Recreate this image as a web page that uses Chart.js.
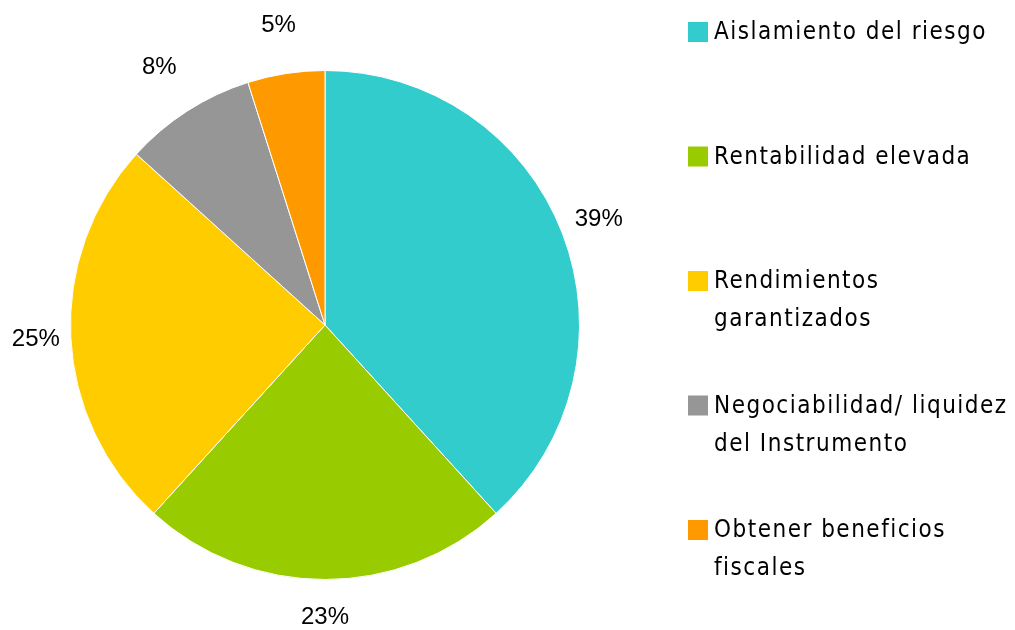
<!DOCTYPE html>
<html>
<head>
<meta charset="utf-8">
<script src="https://cdn.jsdelivr.net/npm/chart.js@4.4.1/dist/chart.umd.min.js"></script>
<style>
  html, body { margin: 0; padding: 0; background: #ffffff; }
  #wrap { width: 1015px; height: 630px; position: relative; }
</style>
</head>
<body>
<div id="wrap"><canvas id="c" width="1015" height="630"></canvas></div>
<script>
const categories = [
  ["Aislamiento del riesgo"],
  ["Rentabilidad elevada"],
  ["Rendimientos", "garantizados"],
  ["Negociabilidad/ liquidez", "del Instrumento"],
  ["Obtener beneficios", "fiscales"]
];
// slice shares as drawn in the picture
const values = [38.3, 23.5, 25.0, 8.4, 4.9];
// data labels as printed in the picture
const pctText = ["39%", "23%", "25%", "8%", "5%"];
const colors = ["#33CCCC", "#99CC00", "#FFCC00", "#969696", "#FF9900"];

const pctLabels = {
  id: 'pctLabels',
  afterDatasetsDraw(chart, args, opts) {
    const ctx = chart.ctx;
    const meta = chart.getDatasetMeta(0);
    ctx.save();
    ctx.font = '24px "Liberation Sans", Arial, sans-serif';
    ctx.fillStyle = '#000000';
    ctx.textAlign = 'center';
    ctx.textBaseline = 'middle';
    meta.data.forEach((arc, i) => {
      const p = arc.getProps(['x', 'y', 'startAngle', 'endAngle', 'outerRadius'], true);
      const mid = (p.startAngle + p.endAngle) / 2;
      const r = p.outerRadius + opts.offsets[i];
      const x = p.x + Math.cos(mid) * r;
      const y = p.y + Math.sin(mid) * r;
      ctx.fillText(pctText[i], x, y);
    });
    ctx.restore();
  }
};

const sideLegend = {
  id: 'sideLegend',
  afterDraw(chart, args, opts) {
    const ctx = chart.ctx;
    ctx.save();
    ctx.font = '24px "DejaVu Sans Condensed", "DejaVu Sans", sans-serif';
    if ('letterSpacing' in ctx) ctx.letterSpacing = '1.5px';
    ctx.textAlign = 'left';
    ctx.textBaseline = 'middle';
    categories.forEach((lines, i) => {
      const y0 = opts.top + i * opts.itemGap;
      ctx.fillStyle = colors[i];
      ctx.fillRect(opts.boxX, y0 - opts.box / 2, opts.box, opts.box);
      ctx.fillStyle = '#000000';
      lines.forEach((ln, j) => {
        ctx.fillText(ln, opts.textX, y0 + 1 + j * opts.lineH);
      });
    });
    ctx.restore();
  }
};

new Chart(document.getElementById('c'), {
  type: 'pie',
  data: {
    labels: categories,
    datasets: [{
      data: values,
      backgroundColor: colors,
      borderColor: '#ffffff',
      borderWidth: 1
    }]
  },
  options: {
    responsive: false,
    animation: false,
    layout: { padding: { left: 70, right: 435, top: 70, bottom: 50 } },
    plugins: {
      legend: { display: false },
      tooltip: { enabled: false },
      pctLabels: { offsets: [39, 38, 35, 52, 49] },
      sideLegend: { top: 32, itemGap: 124.5, lineH: 38, boxX: 688, box: 20, textX: 714 }
    }
  },
  plugins: [pctLabels, sideLegend]
});
</script>
</body>
</html>
